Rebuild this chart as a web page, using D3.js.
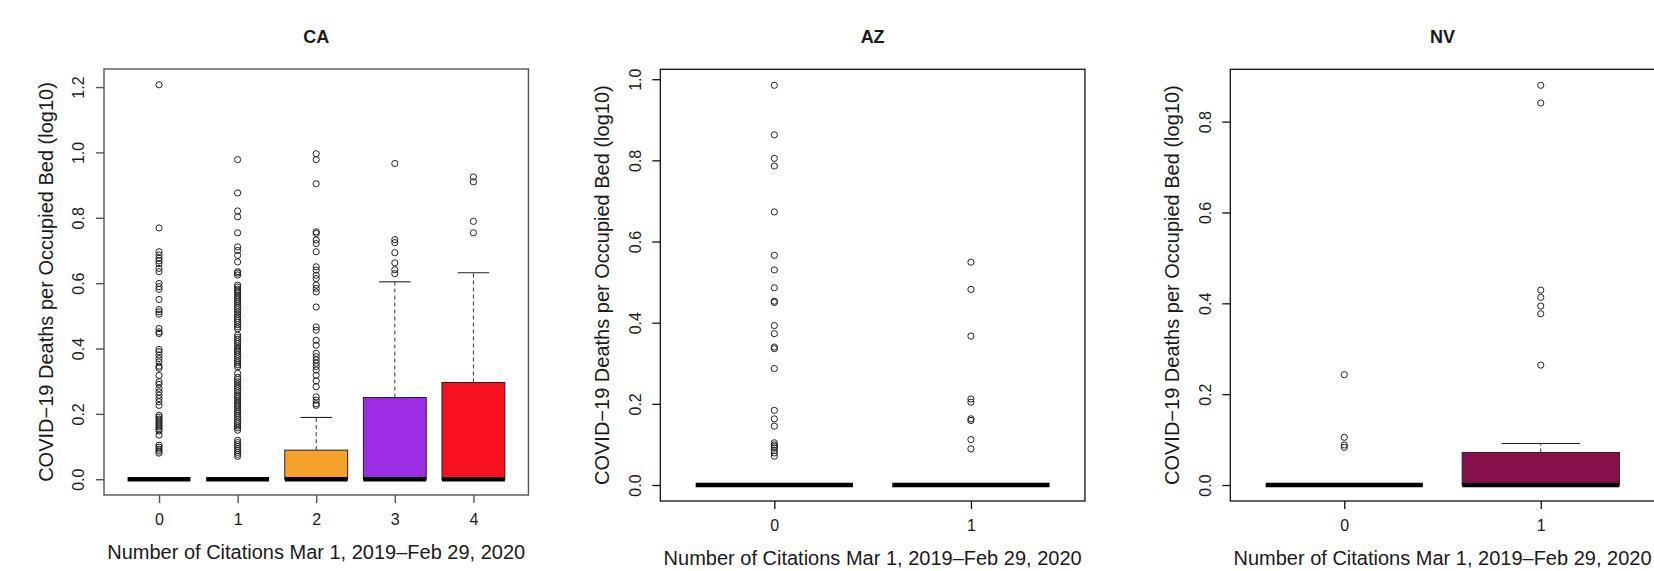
<!DOCTYPE html>
<html><head><meta charset="utf-8">
<script src="https://cdn.jsdelivr.net/npm/d3@7"></script>
<style>
body{margin:0;background:#fff}
svg{display:block}
text{font-family:"Liberation Sans",Arial,Helvetica,sans-serif;fill:#1a1a1a}
</style>
</head><body>
<svg id="chart" width="1654" height="571"></svg>
<script>
// ---------------- data ----------------
const stateNames = ["CA", "AZ", "NV"];
const xAxisTitle = "Number of Citations Mar 1, 2019\u2013Feb 29, 2020";
const yAxisTitle = "COVID\u221219 Deaths per Occupied Bed (log10)";

const caCategories = ["0", "1", "2", "3", "4"];
const caQ1 = [0, 0, 0, 0, 0];
const caMedian = [0, 0, 0, 0, 0];
const caQ3 = [0, 0, 0.089, 0.250, 0.296];
const caWhiskerLow = [0, 0, 0, 0, 0];
const caWhiskerHigh = [0, 0, 0.189, 0.604, 0.632];
const caOutliers0 = [1.207, 0.769, 0.696, 0.686, 0.676, 0.668, 0.660, 0.645, 0.635, 0.599, 0.589, 0.581, 0.550, 0.519, 0.512, 0.505, 0.461, 0.451, 0.446, 0.397, 0.390, 0.380, 0.369, 0.359, 0.346, 0.340, 0.318, 0.298, 0.290, 0.278, 0.267, 0.257, 0.247, 0.237, 0.226, 0.196, 0.190, 0.184, 0.178, 0.172, 0.166, 0.160, 0.154, 0.148, 0.135, 0.104, 0.098, 0.092, 0.086, 0.080];
const caOutliers1 = [0.978, 0.876, 0.821, 0.803, 0.754, 0.711, 0.700, 0.685, 0.665, 0.635, 0.631, 0.625, 0.594, 0.588, 0.581, 0.576, 0.570, 0.563, 0.557, 0.551, 0.545, 0.539, 0.532, 0.526, 0.519, 0.512, 0.505, 0.498, 0.492, 0.486, 0.480, 0.473, 0.466, 0.460, 0.441, 0.434, 0.428, 0.421, 0.415, 0.408, 0.401, 0.395, 0.389, 0.382, 0.376, 0.369, 0.362, 0.356, 0.350, 0.344, 0.324, 0.312, 0.305, 0.298, 0.291, 0.284, 0.278, 0.271, 0.265, 0.257, 0.252, 0.246, 0.240, 0.233, 0.227, 0.221, 0.214, 0.208, 0.202, 0.196, 0.190, 0.183, 0.176, 0.170, 0.163, 0.157, 0.150, 0.119, 0.112, 0.106, 0.100, 0.094, 0.088, 0.082, 0.076, 0.070];
const caOutliers2 = [0.996, 0.978, 0.904, 0.757, 0.752, 0.732, 0.721, 0.696, 0.650, 0.640, 0.624, 0.614, 0.594, 0.584, 0.573, 0.527, 0.466, 0.456, 0.425, 0.410, 0.385, 0.375, 0.365, 0.355, 0.345, 0.334, 0.318, 0.301, 0.283, 0.252, 0.242, 0.231, 0.226];
const caOutliers3 = [0.966, 0.733, 0.724, 0.693, 0.662, 0.641, 0.629];
const caOutliers4 = [0.925, 0.910, 0.789, 0.754];
const caYTicks = [0, 0.2, 0.4, 0.6, 0.8, 1.0, 1.2];

const azCategories = ["0", "1"];
const azQ1 = [0, 0];
const azMedian = [0, 0];
const azQ3 = [0, 0];
const azWhiskerLow = [0, 0];
const azWhiskerHigh = [0, 0];
const azOutliers0 = [0.985, 0.863, 0.805, 0.786, 0.673, 0.566, 0.530, 0.486, 0.453, 0.450, 0.393, 0.373, 0.340, 0.336, 0.287, 0.184, 0.163, 0.145, 0.104, 0.099, 0.095, 0.091, 0.085, 0.079, 0.071];
const azOutliers1 = [0.549, 0.482, 0.367, 0.212, 0.204, 0.163, 0.159, 0.112, 0.089];
const azYTicks = [0, 0.2, 0.4, 0.6, 0.8, 1.0];

const nvCategories = ["0", "1"];
const nvQ1 = [0, 0];
const nvMedian = [0, 0];
const nvQ3 = [0, 0.0717];
const nvWhiskerLow = [0, 0];
const nvWhiskerHigh = [0, 0.0914];
const nvOutliers0 = [0.243, 0.105, 0.088, 0.083];
const nvOutliers1 = [0.880, 0.841, 0.429, 0.413, 0.394, 0.377, 0.264];
const nvYTicks = [0, 0.2, 0.4, 0.6, 0.8];

// ---------------- styles / layout ----------------
const caFills = ["#ffffff", "#ffffff", "#F6A12A", "#9B2DE5", "#F8101F"];
const azFills = ["#ffffff", "#ffffff"];
const nvFills = ["#ffffff", "#89104C"];

const panelSpecs = [
  {title: stateNames[0], cats: caCategories, q1: caQ1, med: caMedian, q3: caQ3, wlo: caWhiskerLow, whi: caWhiskerHigh,
   out: [caOutliers0, caOutliers1, caOutliers2, caOutliers3, caOutliers4], ticks: caYTicks, fills: caFills,
   left: 104, top: 69, bottom: 495, unit: 78.6, frame: "#555", frameW: 1.4},
  {title: stateNames[1], cats: azCategories, q1: azQ1, med: azMedian, q3: azQ3, wlo: azWhiskerLow, whi: azWhiskerHigh,
   out: [azOutliers0, azOutliers1], ticks: azYTicks, fills: azFills,
   left: 660.3, top: 69.3, bottom: 501, unit: 196.6, frame: "#111", frameW: 1.3},
  {title: stateNames[2], cats: nvCategories, q1: nvQ1, med: nvMedian, q3: nvQ3, wlo: nvWhiskerLow, whi: nvWhiskerHigh,
   out: [nvOutliers0, nvOutliers1], ticks: nvYTicks, fills: nvFills,
   left: 1230.3, top: 69.3, bottom: 501, unit: 196.5, frame: "#111", frameW: 1.3}
];

const svg = d3.select("#chart");
const fmt = d3.format(".1f");

panelSpecs.forEach(p => {
  const n = p.cats.length;
  const x0 = 0.5 - 0.04 * n, x1 = n + 0.5 + 0.04 * n;
  const right = p.left + (x1 - x0) * p.unit;
  const x = d3.scaleLinear().domain([x0, x1]).range([p.left, right]);
  const allVals = [].concat(...p.out, p.whi, p.q3);
  const ymax = d3.max(allVals), ymin = d3.min([].concat(p.q1, p.wlo));
  const pad = 0.04 * (ymax - ymin);
  const y = d3.scaleLinear().domain([ymin - pad, ymax + pad]).range([p.bottom, p.top]);
  const g = svg.append("g");
  const halfBox = 0.4 * p.unit;
  const halfStaple = 0.2 * p.unit;

  // boxes
  p.cats.forEach((c, i) => {
    const cx = x(i + 1);
    if (p.whi[i] > p.q3[i]) {
      g.append("line").attr("x1", cx).attr("x2", cx).attr("y1", y(p.q3[i])).attr("y2", y(p.whi[i]))
        .attr("stroke", "#333").attr("stroke-width", 1).attr("stroke-dasharray", "4,3");
      g.append("line").attr("x1", cx - halfStaple).attr("x2", cx + halfStaple).attr("y1", y(p.whi[i])).attr("y2", y(p.whi[i]))
        .attr("stroke", "#222").attr("stroke-width", 1.1);
    }
    if (p.q3[i] > p.q1[i]) {
      g.append("rect").attr("x", cx - halfBox).attr("width", 2 * halfBox)
        .attr("y", y(p.q3[i])).attr("height", y(p.q1[i]) - y(p.q3[i]))
        .attr("fill", p.fills[i]).attr("stroke", "#222").attr("stroke-width", 1);
    }
    g.append("line").attr("x1", cx - halfBox).attr("x2", cx + halfBox).attr("y1", y(p.med[i])).attr("y2", y(p.med[i]))
      .attr("stroke", "#000").attr("stroke-width", 4.5);
    g.selectAll(null).data(p.out[i]).enter().append("circle")
      .attr("cx", cx).attr("cy", d => y(d)).attr("r", 3.1)
      .attr("fill", "none").attr("stroke", "#222").attr("stroke-width", 1);
  });

  // frame
  g.append("rect").attr("x", p.left).attr("y", p.top).attr("width", right - p.left).attr("height", p.bottom - p.top)
    .attr("fill", "none").attr("stroke", p.frame).attr("stroke-width", p.frameW);

  // y axis
  const ya = g.append("g").attr("transform", `translate(${p.left},0)`)
    .call(d3.axisLeft(y).tickValues(p.ticks).tickFormat(fmt).tickSize(8).tickSizeOuter(0));
  ya.select(".domain").remove();
  ya.selectAll(".tick line").attr("stroke", p.frame).attr("stroke-width", p.frameW);
  ya.selectAll(".tick text").attr("x", 0).attr("dy", null).attr("text-anchor", "middle")
    .attr("transform", "translate(-19.8,0) rotate(-90)")
    .style("font-size", "16px").style("font-family", "'Liberation Sans',Arial,sans-serif").attr("fill", "#222");

  // x axis
  const xa = g.append("g").attr("transform", `translate(0,${p.bottom})`)
    .call(d3.axisBottom(x).tickValues(d3.range(1, n + 1)).tickFormat(i => p.cats[i - 1]).tickSize(8).tickSizeOuter(0));
  xa.select(".domain").remove();
  xa.selectAll(".tick line").attr("stroke", p.frame).attr("stroke-width", p.frameW);
  xa.selectAll(".tick text").attr("y", 29.7).attr("dy", null)
    .style("font-size", "16px").style("font-family", "'Liberation Sans',Arial,sans-serif").attr("fill", "#222");

  // titles
  const midX = (p.left + right) / 2;
  const midY = (p.top + p.bottom) / 2;
  g.append("text").attr("x", midX).attr("y", 43).attr("text-anchor", "middle")
    .style("font-size", "18px").style("font-weight", "bold").text(p.title);
  g.append("text").attr("x", midX).attr("y", p.bottom + 64).attr("text-anchor", "middle")
    .style("font-size", "20px").text(xAxisTitle);
  g.append("text").attr("transform", `translate(${p.left - 51},${midY}) rotate(-90)`).attr("text-anchor", "middle")
    .style("font-size", "20px").text(yAxisTitle);
});
</script>
</body></html>
